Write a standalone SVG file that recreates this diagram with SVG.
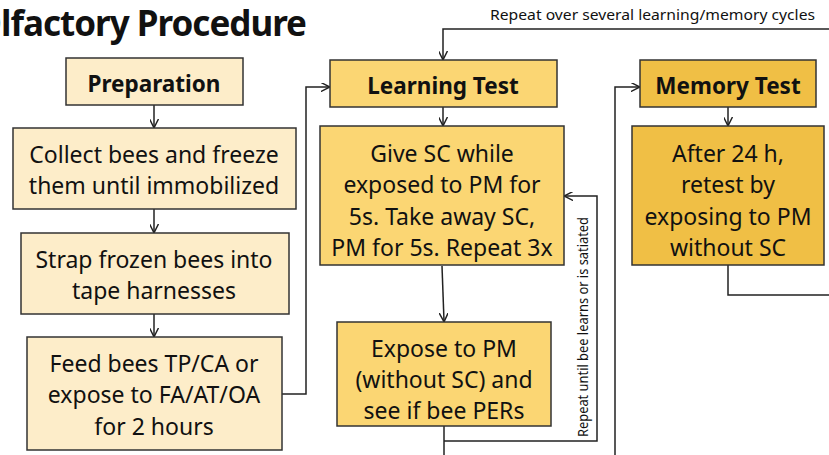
<svg xmlns="http://www.w3.org/2000/svg" width="829" height="455" viewBox="0 0 829 455">
<defs>
<marker id="ah" viewBox="0 0 10 10" refX="9" refY="5" markerWidth="9" markerHeight="9" markerUnits="userSpaceOnUse" orient="auto">
<path d="M0,0 L10,5 L0,10" fill="none" stroke="#222" stroke-width="1.6"/>
</marker>
<style>
.prep{fill:#fdedc9;stroke:#333;stroke-width:1.5}
.learn{fill:#fbd673;stroke:#333;stroke-width:1.5}
.mem{fill:#f0bf45;stroke:#333;stroke-width:1.5}
.t{font-family:"Noto Sans","Open Sans",sans-serif;font-size:23px;fill:#111;text-anchor:middle}
.h{font-family:"Noto Sans","Open Sans",sans-serif;font-size:22.5px;font-weight:bold;fill:#111;text-anchor:middle}
.c{fill:none;stroke:#222;stroke-width:1.5}
.lbl{font-family:"Noto Sans","Open Sans",sans-serif;font-size:15px;fill:#111}
</style>
</defs>
<rect width="829" height="455" fill="#fff"/>
<text x="306" y="36" font-family="'Noto Sans','Open Sans',sans-serif" font-size="35" font-weight="bold" letter-spacing="-1" fill="#111" text-anchor="end">Olfactory Procedure</text>

<g id="connectors">
<line class="c" x1="154" y1="105" x2="154" y2="127" marker-end="url(#ah)"/>
<line class="c" x1="154" y1="209" x2="154" y2="232" marker-end="url(#ah)"/>
<line class="c" x1="154" y1="314" x2="154" y2="336" marker-end="url(#ah)"/>
<polyline class="c" points="282,394 306,394 306,87 329,87" marker-end="url(#ah)"/>
<polyline class="c" points="829,29 443,29 443,59" marker-end="url(#ah)"/>
<line class="c" x1="443" y1="107" x2="443" y2="125" marker-end="url(#ah)"/>
<line class="c" x1="442" y1="266" x2="444" y2="321" marker-end="url(#ah)"/>
<line class="c" x1="444" y1="426" x2="444" y2="455"/>
<polyline class="c" points="444,441 597,441 597,196 565,196" marker-end="url(#ah)"/>
<polyline class="c" points="615,455 615,87 639,87" marker-end="url(#ah)"/>
<line class="c" x1="728" y1="107" x2="728" y2="125" marker-end="url(#ah)"/>
<polyline class="c" points="728,265 728,295 829,295"/>
<text class="lbl" x="490" y="20" textLength="325" lengthAdjust="spacingAndGlyphs">Repeat over several learning/memory cycles</text>
<text class="lbl" x="0" y="0" font-size="14" text-anchor="middle" textLength="220" lengthAdjust="spacingAndGlyphs" transform="translate(588,327) rotate(-90)">Repeat until bee learns or is satiated</text>
</g>

<g id="preparation">
<rect class="prep" x="66" y="58" width="177" height="47"/>
<text class="h" x="154" y="92">Preparation</text>
</g>
<g id="collect">
<rect class="prep" x="13" y="128" width="283" height="81"/>
<text class="t" x="154" y="163">Collect bees and freeze</text>
<text class="t" x="154" y="194">them until immobilized</text>
</g>
<g id="strap">
<rect class="prep" x="21" y="233" width="268" height="81"/>
<text class="t" x="154" y="268">Strap frozen bees into</text>
<text class="t" x="154" y="299">tape harnesses</text>
</g>
<g id="feed">
<rect class="prep" x="27" y="337" width="255" height="113"/>
<text class="t" x="154" y="372">Feed bees TP/CA or</text>
<text class="t" x="154" y="403">expose to FA/AT/OA</text>
<text class="t" x="154" y="435">for 2 hours</text>
</g>
<g id="learning">
<rect class="learn" x="330" y="60" width="227" height="47"/>
<text class="h" x="443" y="94">Learning Test</text>
</g>
<g id="givesc">
<rect class="learn" x="320" y="126" width="244" height="139"/>
<text class="t" x="442" y="162">Give SC while</text>
<text class="t" x="442" y="193">exposed to PM for</text>
<text class="t" x="442" y="225">5s. Take away SC,</text>
<text class="t" x="442" y="256">PM for 5s. Repeat 3x</text>
</g>
<g id="expose">
<rect class="learn" x="337" y="322" width="214" height="104"/>
<text class="t" x="444" y="357">Expose to PM</text>
<text class="t" x="444" y="388">(without SC) and</text>
<text class="t" x="444" y="419">see if bee PERs</text>
</g>
<g id="memory">
<rect class="mem" x="640" y="60" width="176" height="47"/>
<text class="h" x="728" y="94">Memory Test</text>
</g>
<g id="after">
<rect class="mem" x="632" y="126" width="192" height="139"/>
<text class="t" x="728" y="162">After 24 h,</text>
<text class="t" x="728" y="193">retest by</text>
<text class="t" x="728" y="225">exposing to PM</text>
<text class="t" x="728" y="256">without SC</text>
</g>
</svg>
